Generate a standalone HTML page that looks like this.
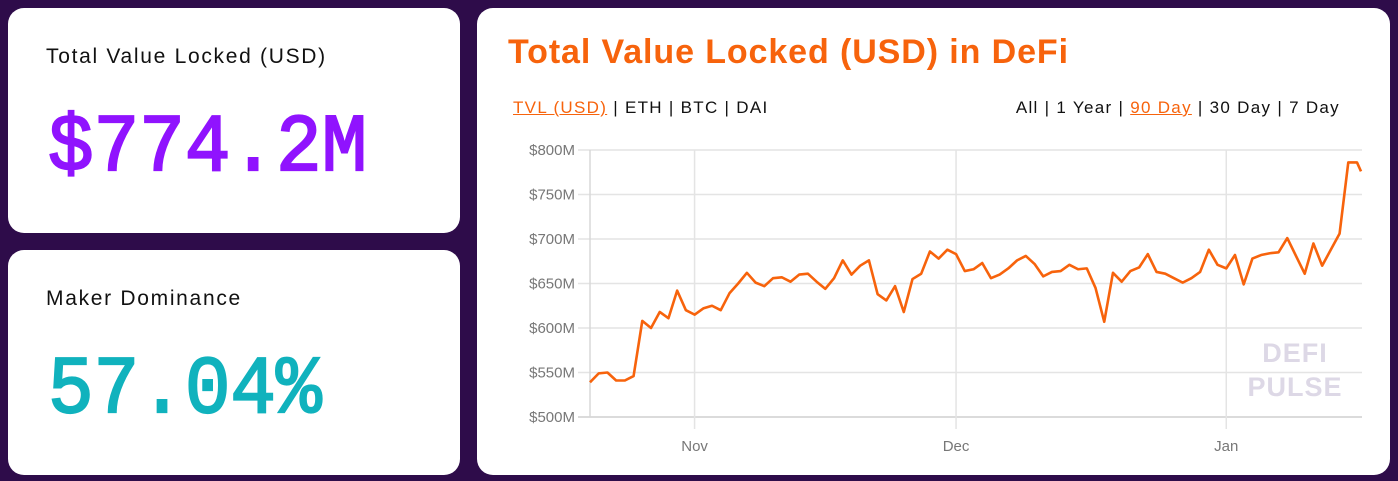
<!DOCTYPE html>
<html><head><meta charset="utf-8"><style>
body{margin:0;width:1398px;height:481px;background:#2e0c4a;position:relative;overflow:hidden;font-family:"Liberation Sans",sans-serif}
.card{position:absolute;background:#fff;border-radius:16px}
.lbl{position:absolute;left:38px;font-size:21px;color:#111;letter-spacing:1.7px}
.big{position:absolute;left:40px;font-family:"Liberation Mono",monospace;font-size:76px;font-weight:normal;-webkit-text-stroke:2px currentColor;transform:scaleY(1.08);transform-origin:0 0}
.menu{position:absolute;top:90px;font-size:17px;color:#111;letter-spacing:1.3px}
.menu .on{color:#f7630c;text-decoration:underline}
</style></head><body>
<div class="card" style="left:8px;top:8px;width:452px;height:225px">
 <div class="lbl" style="top:37px">Total Value Locked (USD)</div>
 <div class="big" style="top:94px;color:#9013fe">$774.2M</div>
</div>
<div class="card" style="left:8px;top:250px;width:452px;height:225px">
 <div class="lbl" style="top:37px">Maker Dominance</div>
 <div class="big" style="top:94px;color:#10b2bd">57.04%</div>
</div>
<div class="card" style="left:477px;top:8px;width:913px;height:467px">
 <div style="position:absolute;left:31px;top:25px;font-size:34px;font-weight:bold;color:#f7630c;letter-spacing:0.9px">Total Value Locked (USD) in DeFi</div>
 <div class="menu" style="left:36px"><span class="on">TVL (USD)</span> | <span>ETH</span> | <span>BTC</span> | <span>DAI</span></div>
 <div class="menu" style="right:50px"><span>All</span> | <span>1 Year</span> | <span class="on">90 Day</span> | <span>30 Day</span> | <span>7 Day</span></div>
</div>
<svg id="chart" width="1398" height="481" style="position:absolute;left:0;top:0"></svg>
<script>
const values=[539,549,550,541,541,546,608,600,618,611,642,620,615,622,625,620,639,650,662,651,647,656,657,652,660,661,652,644,656,676,660,670,676,638,631,647,618,655,661,686,678,688,683,664,666,673,656,660,667,676,681,672,658,663,664,671,666,667,645,607,662,652,664,668,683,663,661,656,651,656,663,688,671,667,682,649,678,682,684,685,701,681,661,695,670,688,706,786,786,776];
const yTicks=[500,550,600,650,700,750,800];
const xTickLabels=["Nov","Dec","Jan"];
const xTickIdx=[12,42,73];
const NS="http://www.w3.org/2000/svg";
const svg=document.getElementById('chart');
const x0=590,x1=1357,y0=417,y1=150;
const X=i=>x0+i*(x1-x0)/88;
const Y=v=>y0-(v-500)*(y0-y1)/300;
function mk(t,a){const e=document.createElementNS(NS,t);for(const k in a)e.setAttribute(k,a[k]);svg.appendChild(e);return e;}
yTicks.forEach(v=>{
 const l=mk('line',{x1:578,x2:1362,y1:Y(v),y2:Y(v),stroke:v===500?'#cfcfcf':'#e4e4e4','stroke-width':1.5});
 
 
 const t=mk('text',{x:575,y:Y(v)+5,'text-anchor':'end','font-size':15,fill:'#777','font-family':'Liberation Sans, sans-serif'});
 t.textContent='$'+v+'M';
 
 
});
const ax=mk('line',{x1:x0,x2:x0,y1:y1,y2:y0,stroke:'#d8d8d8','stroke-width':1.5});


xTickIdx.forEach((idx,k)=>{
 const l=mk('line',{x1:X(idx),x2:X(idx),y1:y1,y2:y0+12,stroke:'#e4e4e4','stroke-width':1.5});
 
 
 const t=mk('text',{x:X(idx),y:451,'text-anchor':'middle','font-size':15,fill:'#777','font-family':'Liberation Sans, sans-serif'});
 t.textContent=xTickLabels[k];
 
 
});
const wm=mk('text',{x:1295,y:362,'text-anchor':'middle','font-size':27,'font-weight':'bold',fill:'#ddd8e6','font-family':'Liberation Sans, sans-serif','letter-spacing':1});
wm.textContent='DEFI';


const wm2=mk('text',{x:1295,y:396,'text-anchor':'middle','font-size':27,'font-weight':'bold',fill:'#ddd8e6','font-family':'Liberation Sans, sans-serif','letter-spacing':1});
wm2.textContent='PULSE';


const p=mk('polyline',{points:values.map((v,i)=>Math.min(X(i),1361)+','+Y(v)).join(' '),fill:'none',stroke:'#f7630c','stroke-width':2.6,'stroke-linejoin':'round'});


</script>
</body></html>
